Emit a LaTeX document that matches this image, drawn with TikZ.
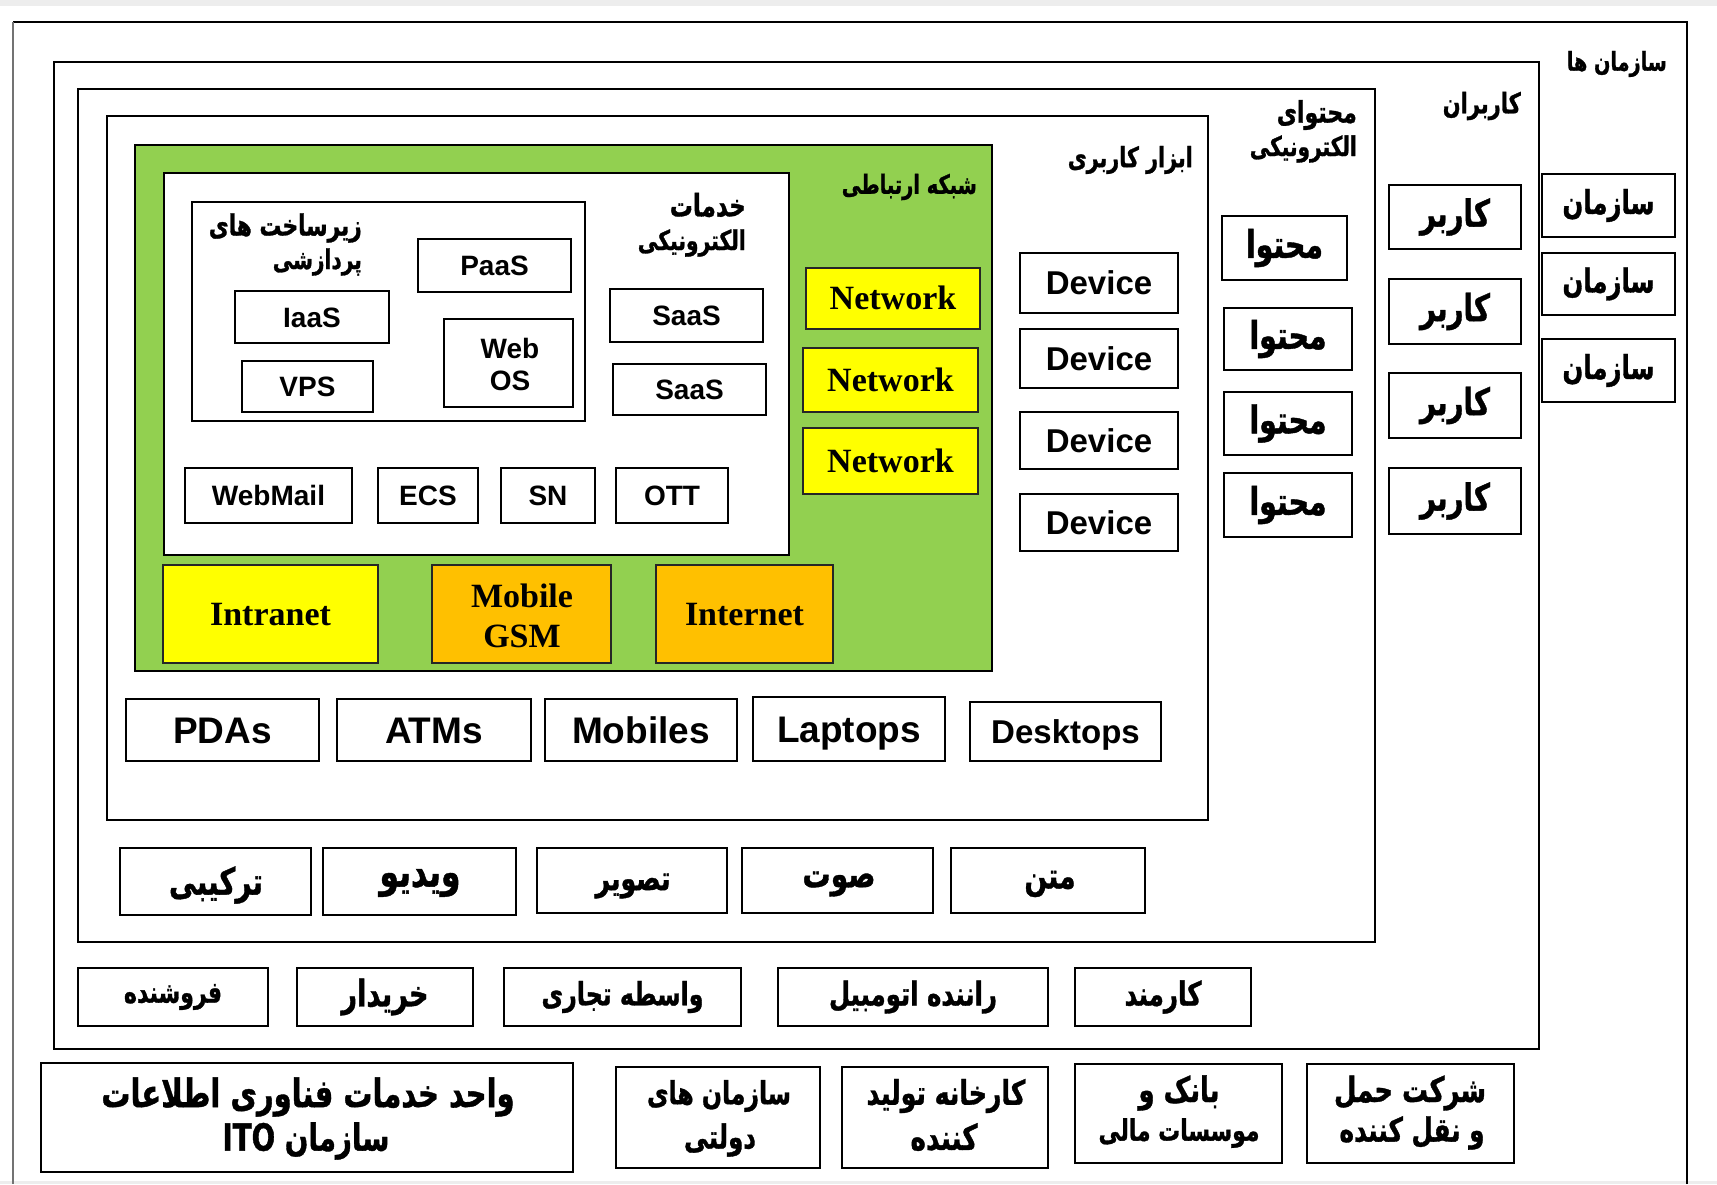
\documentclass[tikz,border=0pt]{standalone}
\usepackage{fontspec}
\usepackage{graphicx}
\setmainfont{Liberation Sans}
\newfontfamily\tnr{Liberation Serif}
\newfontfamily\fa[Script=Arabic, FakeStretch=0.74, BoldFeatures={FakeBold=1}]{DejaVu Sans}
\TeXXeTstate=1
\definecolor{netgreen}{HTML}{92D050}
\definecolor{netyellow}{HTML}{FFFF00}
\definecolor{netorange}{HTML}{FFC000}
% Persian text in bold, scaled to a given width (pt)
\newcommand\fw[2]{\resizebox{#1pt}{!}{\fa\bfseries #2}}
\begin{document}
\begin{tikzpicture}[x=1pt,y=-1pt,
  spanbox/.style n args={4}{minimum width={#3-#1}, minimum height={#4-#2},
    at={({(#1+#3)/2},{(#2+#4)/2})}},
  frm/.style={draw=black, line width=1.6pt, inner sep=0pt},
  pbox/.style={draw=black, line width=1.6pt, fill=white, inner sep=0pt},
  sbox/.style={pbox, font=\bfseries\fontsize{28}{30}\selectfont,
    text height=20pt, text depth=0pt},
  dbox/.style={pbox, font=\bfseries\fontsize{33}{36}\selectfont,
    text height=23.6pt, text depth=0pt},
  gbox/.style={pbox, font=\bfseries\fontsize{37}{40}\selectfont,
    text height=26.5pt, text depth=0pt},
  nbox/.style={draw=black!85, line width=1.3pt, inner sep=0pt,
    font=\tnr\bfseries\fontsize{34}{36}\selectfont,
    text height=22.5pt, text depth=0pt},
  lbl/.style={inner sep=0pt, anchor=east},
  ln/.style={inner sep=0pt},
]
\useasboundingbox (0,0) rectangle (1717,1184);
\fill[white] (0,0) rectangle (1717,1184);
\fill[gray!14] (0,0) rectangle (1717,6);
\fill[gray!14] (0,1181) rectangle (1717,1184);

% outermost frame: organisations
\draw[black, line width=1.6pt] (1687,1184) -- (1687,22) -- (13,22);
\draw[black!55, line width=1.6pt] (13,22) -- (13,1184);
\node[lbl] (orgsT) at (1667,64) {\fw{100}{\beginR سازمان ها\endR}};
\node[pbox, spanbox={1542}{174}{1675}{237}] (o1) {\fw{92}{\beginR سازمان\endR}};
\node[pbox, spanbox={1542}{253}{1675}{315}] (o2) {\fw{92}{\beginR سازمان\endR}};
\node[pbox, spanbox={1542}{339}{1675}{402}] (o3) {\fw{92}{\beginR سازمان\endR}};

% users
\node[frm, spanbox={54}{62}{1539}{1049}] (users) {};
\node[lbl] (usersT) at (1521,106) {\fw{78}{\beginR کاربران\endR}};
\node[pbox, spanbox={1389}{185}{1521}{249}] (k1) {\fw{70}{\beginR کاربر\endR}};
\node[pbox, spanbox={1389}{279}{1521}{344}] (k2) {\fw{70}{\beginR کاربر\endR}};
\node[pbox, spanbox={1389}{373}{1521}{438}] (k3) {\fw{70}{\beginR کاربر\endR}};
\node[pbox, spanbox={1389}{468}{1521}{534}] (k4) {\fw{70}{\beginR کاربر\endR}};

% electronic content
\node[frm, spanbox={78}{89}{1375}{942}] (econ) {};
\node[lbl] (econT1) at (1357,115) {\fw{80}{\beginR محتوای\endR}};
\node[lbl] (econT2) at (1357,149) {\fw{107}{\beginR الکترونیکی\endR}};
\node[pbox, spanbox={1222}{216}{1347}{280}] (m1) {\fw{77}{\beginR محتوا\endR}};
\node[pbox, spanbox={1224}{308}{1352}{370}] (m2) {\fw{77}{\beginR محتوا\endR}};
\node[pbox, spanbox={1224}{392}{1352}{455}] (m3) {\fw{77}{\beginR محتوا\endR}};
\node[pbox, spanbox={1224}{473}{1352}{537}] (m4) {\fw{77}{\beginR محتوا\endR}};

% user tools
\node[frm, spanbox={107}{116}{1208}{820}] (tools) {};
\node[lbl] (toolsT) at (1193,160) {\fw{125}{\beginR ابزار کاربری\endR}};
\node[dbox, spanbox={1020}{253}{1178}{313}] (d1) {Device};
\node[dbox, spanbox={1020}{329}{1178}{388}] (d2) {Device};
\node[dbox, spanbox={1020}{412}{1178}{469}] (d3) {Device};
\node[dbox, spanbox={1020}{494}{1178}{551}] (d4) {Device};

% communication network
\node[frm, fill=netgreen, spanbox={135}{145}{992}{671}] (net) {};
\node[lbl] (netT) at (977,187) {\fw{135}{\beginR شبکه ارتباطی\endR}};
\node[nbox, fill=netyellow, spanbox={806}{268}{980}{329}] (n1) {Network};
\node[nbox, fill=netyellow, spanbox={803}{348}{978}{412}] (n2) {Network};
\node[nbox, fill=netyellow, spanbox={803}{428}{978}{494}] (n3) {Network};
\node[nbox, fill=netyellow, spanbox={163}{565}{378}{663}] (intra) {Intranet};
\node[nbox, fill=netorange, spanbox={432}{565}{611}{663}] (gsm) {};
\node[ln, anchor=base, font=\tnr\bfseries\fontsize{34}{36}\selectfont] (gsmT1) at (522,607) {Mobile};
\node[ln, anchor=base, font=\tnr\bfseries\fontsize{34}{36}\selectfont] (gsmT2) at (522,647) {GSM};
\node[nbox, fill=netorange, spanbox={656}{565}{833}{663}] (inet) {Internet};

% electronic services
\node[frm, fill=white, spanbox={164}{173}{789}{555}] (serv) {};
\node[lbl] (servT1) at (746,205) {\fw{76}{\beginR خدمات\endR}};
\node[lbl] (servT2) at (746,243) {\fw{108}{\beginR الکترونیکی\endR}};
\node[sbox, spanbox={610}{289}{763}{342}] (saas1) {SaaS};
\node[sbox, spanbox={613}{364}{766}{415}] (saas2) {SaaS};
\node[sbox, spanbox={185}{468}{352}{523}] (mail) {WebMail};
\node[sbox, spanbox={378}{468}{478}{523}] (ecs) {ECS};
\node[sbox, spanbox={501}{468}{595}{523}] (sn) {SN};
\node[sbox, spanbox={616}{468}{728}{523}] (ott) {OTT};

% processing infrastructure
\node[frm, spanbox={192}{202}{585}{421}] (infra) {};
\node[lbl] (infraT1) at (362,228) {\fw{153}{\beginR زیرساخت های\endR}};
\node[lbl] (infraT2) at (362,262) {\fw{89}{\beginR پردازشی\endR}};
\node[sbox, spanbox={418}{239}{571}{292}] (paas) {PaaS};
\node[sbox, spanbox={235}{291}{389}{343}] (iaas) {IaaS};
\node[sbox, spanbox={242}{361}{373}{412}] (vps) {VPS};
\node[sbox, spanbox={444}{319}{573}{407}] (webos) {};
\node[ln, anchor=base, font=\bfseries\fontsize{28}{30}\selectfont] (webT) at (510,358) {Web};
\node[ln, anchor=base, font=\bfseries\fontsize{28}{30}\selectfont] (osT) at (510,390) {OS};

% devices
\node[gbox, spanbox={126}{699}{319}{761}] (pda) {PDAs};
\node[gbox, spanbox={337}{699}{531}{761}] (atm) {ATMs};
\node[gbox, spanbox={545}{699}{737}{761}] (mob) {Mobiles};
\node[gbox, spanbox={753}{697}{945}{761}] (lap) {Laptops};
\node[dbox, spanbox={970}{702}{1161}{761}] (desk) {Desktops};

% content types
\node[pbox, spanbox={120}{848}{311}{915}] (c1) {};
\node[pbox, spanbox={323}{848}{516}{915}] (c2) {};
\node[pbox, spanbox={537}{848}{727}{913}] (c3) {};
\node[pbox, spanbox={742}{848}{933}{913}] (c4) {};
\node[pbox, spanbox={951}{848}{1145}{913}] (c5) {};
\node[ln] (c1T) at (216,885) {\fw{94}{\beginR ترکیبی\endR}};
\node[ln] (c2T) at (420,883) {\fw{81}{\beginR ویدیو\endR}};
\node[ln] (c3T) at (633,886) {\fw{75}{\beginR تصویر\endR}};
\node[ln] (c4T) at (839,884) {\fw{73}{\beginR صوت\endR}};
\node[ln] (c5T) at (1050,884) {\fw{51}{\beginR متن\endR}};

% user roles
\node[pbox, spanbox={78}{968}{268}{1026}] (r1) {\fw{98}{\beginR فروشنده\endR}};
\node[pbox, spanbox={297}{968}{473}{1026}] (r2) {\fw{87}{\beginR خریدار\endR}};
\node[pbox, spanbox={504}{968}{741}{1026}] (r3) {\fw{162}{\beginR واسطه تجاری\endR}};
\node[pbox, spanbox={778}{968}{1048}{1026}] (r4) {\fw{168}{\beginR راننده اتومبیل\endR}};
\node[pbox, spanbox={1075}{968}{1251}{1026}] (r5) {\fw{77}{\beginR کارمند\endR}};

% organisations row
\node[pbox, spanbox={41}{1063}{573}{1172}] (ito) {};
\node[ln] (itoT1) at (308,1097) {\fw{413}{\beginR واحد خدمات فناوری اطلاعات\endR}};
\node[ln] (itoT2) at (306,1141) {\fw{167}{\beginR سازمان \beginL ITO\endL\endR}};
\node[pbox, spanbox={616}{1067}{820}{1168}] (gov) {};
\node[ln] (govT1) at (719,1096) {\fw{144}{\beginR سازمان های\endR}};
\node[ln] (govT2) at (720,1140) {\fw{72}{\beginR دولتی\endR}};
\node[pbox, spanbox={842}{1067}{1048}{1168}] (fac) {};
\node[ln] (facT1) at (946,1096) {\fw{159}{\beginR کارخانه تولید\endR}};
\node[ln] (facT2) at (944,1137) {\fw{67}{\beginR کننده\endR}};
\node[pbox, spanbox={1075}{1064}{1282}{1163}] (bank) {};
\node[ln] (bankT1) at (1179,1093) {\fw{81}{\beginR بانک و\endR}};
\node[ln] (bankT2) at (1179,1133) {\fw{161}{\beginR موسسات مالی\endR}};
\node[pbox, spanbox={1307}{1064}{1514}{1163}] (trans) {};
\node[ln] (transT1) at (1410,1093) {\fw{152}{\beginR شرکت حمل\endR}};
\node[ln] (transT2) at (1412,1133) {\fw{145}{\beginR و نقل کننده\endR}};
\end{tikzpicture}
\end{document}
